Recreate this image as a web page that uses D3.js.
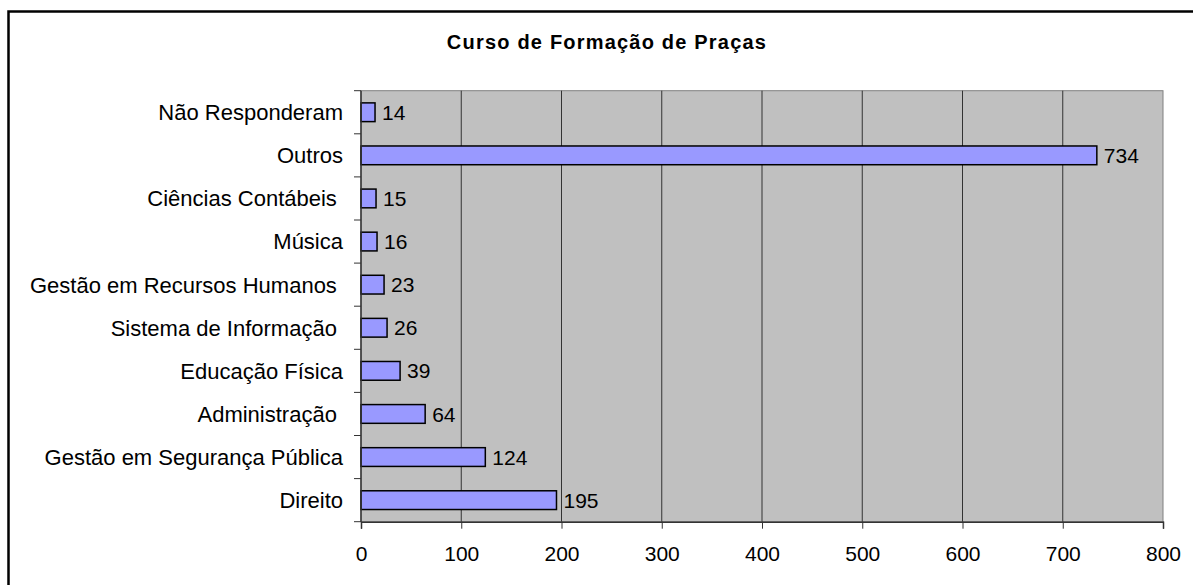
<!DOCTYPE html>
<html><head><meta charset="utf-8">
<script src="https://cdn.jsdelivr.net/npm/d3@7"></script>
<style>
html,body{margin:0;padding:0;background:#fff;}
text{font-family:"Liberation Sans",Arial,sans-serif;fill:#000;}
</style></head>
<body><svg id="c" width="1193" height="585"></svg>
<script>
const title = "Curso de Formação de Praças";
const categories = ["Não Responderam","Outros","Ciências Contábeis ","Música","Gestão em Recursos Humanos ","Sistema de Informação ","Educação Física","Administração ","Gestão em Segurança Pública","Direito"];
const values = [14,734,15,16,23,26,39,64,124,195];
const xTicks = [0,100,200,300,400,500,600,700,800];

const svg = d3.select("#c");
svg.append("rect").attr("x",8.5).attr("y",11.5).attr("width",1300).attr("height",700)
  .attr("fill","#fff").attr("stroke","#000").attr("stroke-width",2.5);

const L=361, R=1163, T=90.7, B=521.7;
const x = d3.scaleLinear().domain([0,800]).range([L,R]);
const y = d3.scaleBand().domain(categories).range([T,B]).padding(0);

svg.append("rect").attr("x",L).attr("y",T).attr("width",R-L).attr("height",B-T)
  .attr("fill","#c0c0c0").attr("stroke","#808080").attr("stroke-width",1);

// gridlines
svg.append("g").selectAll("line").data(xTicks.slice(1,-1)).join("line")
  .attr("x1",d=>x(d)).attr("x2",d=>x(d)).attr("y1",T).attr("y2",B)
  .attr("stroke","#333").attr("stroke-width",1);

// bars
const bh = y.bandwidth()/2.3;
svg.append("g").selectAll("rect").data(values).join("rect")
  .attr("x",x(0)).attr("y",(d,i)=>y(categories[i])+y.bandwidth()/2-bh/2)
  .attr("width",d=>x(d)-x(0)).attr("height",bh)
  .attr("fill","#9999ff").attr("stroke","#000").attr("stroke-width",1.5);

// value labels
svg.append("g").selectAll("text").data(values).join("text")
  .attr("x",d=>x(d)+7).attr("y",(d,i)=>y(categories[i])+y.bandwidth()/2)
  .attr("dy","0.36em").attr("font-size",21).text(d=>d);

// x axis
const xa = svg.append("g").attr("transform",`translate(0,${B})`)
  .call(d3.axisBottom(x).tickValues(xTicks).tickSize(7).tickPadding(17).tickFormat(d3.format("d")));
xa.select(".domain").attr("stroke","#333").attr("stroke-width",1.5);
xa.selectAll(".tick line").attr("stroke","#333");
xa.selectAll(".tick text").attr("font-size",21).attr("font-family","Liberation Sans, Arial, sans-serif").attr("fill","#000");

// y axis: ticks at band boundaries
svg.append("line").attr("x1",L).attr("x2",L).attr("y1",T).attr("y2",B).attr("stroke","#333").attr("stroke-width",1.5);
const bounds = categories.map(c=>y(c)).concat([B]);
svg.append("g").selectAll("line").data(bounds).join("line")
  .attr("x1",L-7).attr("x2",L).attr("y1",d=>d).attr("y2",d=>d).attr("stroke","#333").attr("stroke-width",1);
svg.append("g").selectAll("text").data(categories).join("text")
  .attr("x",L-18).attr("y",d=>y(d)+y.bandwidth()/2).attr("dy","0.36em")
  .attr("text-anchor","end").attr("font-size",22).style("white-space","pre").text(d=>d);

// title
svg.append("text").attr("x",607).attr("y",49).attr("text-anchor","middle")
  .attr("font-size",20).attr("font-weight","bold").attr("letter-spacing","1.2px").text(title);
</script></body></html>
